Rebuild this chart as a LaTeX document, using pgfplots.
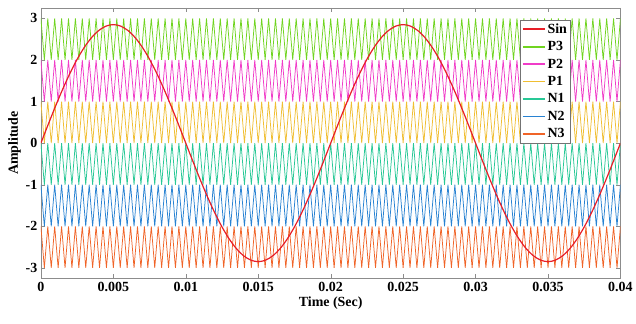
\documentclass[border=0pt]{standalone}
\usepackage{pgfplots}
\pgfplotsset{compat=1.18}
\usepackage{pgfplotstable}
\usepackage{fontspec}
\setmainfont{Liberation Serif}
\definecolor{sinred}{RGB}{232,30,40}
\definecolor{cp3}{RGB}{112,212,32}
\definecolor{cp2}{RGB}{240,60,200}
\definecolor{cp1}{RGB}{240,190,50}
\definecolor{cn1}{RGB}{40,200,150}
\definecolor{cn2}{RGB}{40,130,210}
\definecolor{cn3}{RGB}{240,100,40}
% carriers: x in units of 1/4200 s (0.005 s = 21 units)
\pgfplotstableread[row sep=\\]{
k P3 P2 P1 N1 N2 N3\\
0 3 2 1 0 -1 -2\\ 1 2 1 0 -1 -2 -3\\
2 3 2 1 0 -1 -2\\ 3 2 1 0 -1 -2 -3\\
4 3 2 1 0 -1 -2\\ 5 2 1 0 -1 -2 -3\\
6 3 2 1 0 -1 -2\\ 7 2 1 0 -1 -2 -3\\
8 3 2 1 0 -1 -2\\ 9 2 1 0 -1 -2 -3\\
10 3 2 1 0 -1 -2\\ 11 2 1 0 -1 -2 -3\\
12 3 2 1 0 -1 -2\\ 13 2 1 0 -1 -2 -3\\
14 3 2 1 0 -1 -2\\ 15 2 1 0 -1 -2 -3\\
16 3 2 1 0 -1 -2\\ 17 2 1 0 -1 -2 -3\\
18 3 2 1 0 -1 -2\\ 19 2 1 0 -1 -2 -3\\
20 3 2 1 0 -1 -2\\ 21 2 1 0 -1 -2 -3\\
22 3 2 1 0 -1 -2\\ 23 2 1 0 -1 -2 -3\\
24 3 2 1 0 -1 -2\\ 25 2 1 0 -1 -2 -3\\
26 3 2 1 0 -1 -2\\ 27 2 1 0 -1 -2 -3\\
28 3 2 1 0 -1 -2\\ 29 2 1 0 -1 -2 -3\\
30 3 2 1 0 -1 -2\\ 31 2 1 0 -1 -2 -3\\
32 3 2 1 0 -1 -2\\ 33 2 1 0 -1 -2 -3\\
34 3 2 1 0 -1 -2\\ 35 2 1 0 -1 -2 -3\\
36 3 2 1 0 -1 -2\\ 37 2 1 0 -1 -2 -3\\
38 3 2 1 0 -1 -2\\ 39 2 1 0 -1 -2 -3\\
40 3 2 1 0 -1 -2\\ 41 2 1 0 -1 -2 -3\\
42 3 2 1 0 -1 -2\\ 43 2 1 0 -1 -2 -3\\
44 3 2 1 0 -1 -2\\ 45 2 1 0 -1 -2 -3\\
46 3 2 1 0 -1 -2\\ 47 2 1 0 -1 -2 -3\\
48 3 2 1 0 -1 -2\\ 49 2 1 0 -1 -2 -3\\
50 3 2 1 0 -1 -2\\ 51 2 1 0 -1 -2 -3\\
52 3 2 1 0 -1 -2\\ 53 2 1 0 -1 -2 -3\\
54 3 2 1 0 -1 -2\\ 55 2 1 0 -1 -2 -3\\
56 3 2 1 0 -1 -2\\ 57 2 1 0 -1 -2 -3\\
58 3 2 1 0 -1 -2\\ 59 2 1 0 -1 -2 -3\\
60 3 2 1 0 -1 -2\\ 61 2 1 0 -1 -2 -3\\
62 3 2 1 0 -1 -2\\ 63 2 1 0 -1 -2 -3\\
64 3 2 1 0 -1 -2\\ 65 2 1 0 -1 -2 -3\\
66 3 2 1 0 -1 -2\\ 67 2 1 0 -1 -2 -3\\
68 3 2 1 0 -1 -2\\ 69 2 1 0 -1 -2 -3\\
70 3 2 1 0 -1 -2\\ 71 2 1 0 -1 -2 -3\\
72 3 2 1 0 -1 -2\\ 73 2 1 0 -1 -2 -3\\
74 3 2 1 0 -1 -2\\ 75 2 1 0 -1 -2 -3\\
76 3 2 1 0 -1 -2\\ 77 2 1 0 -1 -2 -3\\
78 3 2 1 0 -1 -2\\ 79 2 1 0 -1 -2 -3\\
80 3 2 1 0 -1 -2\\ 81 2 1 0 -1 -2 -3\\
82 3 2 1 0 -1 -2\\ 83 2 1 0 -1 -2 -3\\
84 3 2 1 0 -1 -2\\ 85 2 1 0 -1 -2 -3\\
86 3 2 1 0 -1 -2\\ 87 2 1 0 -1 -2 -3\\
88 3 2 1 0 -1 -2\\ 89 2 1 0 -1 -2 -3\\
90 3 2 1 0 -1 -2\\ 91 2 1 0 -1 -2 -3\\
92 3 2 1 0 -1 -2\\ 93 2 1 0 -1 -2 -3\\
94 3 2 1 0 -1 -2\\ 95 2 1 0 -1 -2 -3\\
96 3 2 1 0 -1 -2\\ 97 2 1 0 -1 -2 -3\\
98 3 2 1 0 -1 -2\\ 99 2 1 0 -1 -2 -3\\
100 3 2 1 0 -1 -2\\ 101 2 1 0 -1 -2 -3\\
102 3 2 1 0 -1 -2\\ 103 2 1 0 -1 -2 -3\\
104 3 2 1 0 -1 -2\\ 105 2 1 0 -1 -2 -3\\
106 3 2 1 0 -1 -2\\ 107 2 1 0 -1 -2 -3\\
108 3 2 1 0 -1 -2\\ 109 2 1 0 -1 -2 -3\\
110 3 2 1 0 -1 -2\\ 111 2 1 0 -1 -2 -3\\
112 3 2 1 0 -1 -2\\ 113 2 1 0 -1 -2 -3\\
114 3 2 1 0 -1 -2\\ 115 2 1 0 -1 -2 -3\\
116 3 2 1 0 -1 -2\\ 117 2 1 0 -1 -2 -3\\
118 3 2 1 0 -1 -2\\ 119 2 1 0 -1 -2 -3\\
120 3 2 1 0 -1 -2\\ 121 2 1 0 -1 -2 -3\\
122 3 2 1 0 -1 -2\\ 123 2 1 0 -1 -2 -3\\
124 3 2 1 0 -1 -2\\ 125 2 1 0 -1 -2 -3\\
126 3 2 1 0 -1 -2\\ 127 2 1 0 -1 -2 -3\\
128 3 2 1 0 -1 -2\\ 129 2 1 0 -1 -2 -3\\
130 3 2 1 0 -1 -2\\ 131 2 1 0 -1 -2 -3\\
132 3 2 1 0 -1 -2\\ 133 2 1 0 -1 -2 -3\\
134 3 2 1 0 -1 -2\\ 135 2 1 0 -1 -2 -3\\
136 3 2 1 0 -1 -2\\ 137 2 1 0 -1 -2 -3\\
138 3 2 1 0 -1 -2\\ 139 2 1 0 -1 -2 -3\\
140 3 2 1 0 -1 -2\\ 141 2 1 0 -1 -2 -3\\
142 3 2 1 0 -1 -2\\ 143 2 1 0 -1 -2 -3\\
144 3 2 1 0 -1 -2\\ 145 2 1 0 -1 -2 -3\\
146 3 2 1 0 -1 -2\\ 147 2 1 0 -1 -2 -3\\
148 3 2 1 0 -1 -2\\ 149 2 1 0 -1 -2 -3\\
150 3 2 1 0 -1 -2\\ 151 2 1 0 -1 -2 -3\\
152 3 2 1 0 -1 -2\\ 153 2 1 0 -1 -2 -3\\
154 3 2 1 0 -1 -2\\ 155 2 1 0 -1 -2 -3\\
156 3 2 1 0 -1 -2\\ 157 2 1 0 -1 -2 -3\\
158 3 2 1 0 -1 -2\\ 159 2 1 0 -1 -2 -3\\
160 3 2 1 0 -1 -2\\ 161 2 1 0 -1 -2 -3\\
162 3 2 1 0 -1 -2\\ 163 2 1 0 -1 -2 -3\\
164 3 2 1 0 -1 -2\\ 165 2 1 0 -1 -2 -3\\
166 3 2 1 0 -1 -2\\ 167 2 1 0 -1 -2 -3\\
168 3 2 1 0 -1 -2\\
}\carriers
% sine reference, same x units
\pgfplotstableread[row sep=\\]{
x y\\
0 0\\ 2.1 0.4458\\ 4.2 0.8807\\ 6.3 1.2939\\ 8.4 1.6752\\ 10.5 2.0153\\ 12.6 2.3057\\ 14.7 2.5394\\ 16.8 2.7105\\ 18.9 2.8149\\
21 2.85\\ 23.1 2.8149\\ 25.2 2.7105\\ 27.3 2.5394\\ 29.4 2.3057\\ 31.5 2.0153\\ 33.6 1.6752\\ 35.7 1.2939\\ 37.8 0.8807\\ 39.9 0.4458\\
42 0\\ 44.1 -0.4458\\ 46.2 -0.8807\\ 48.3 -1.2939\\ 50.4 -1.6752\\ 52.5 -2.0153\\ 54.6 -2.3057\\ 56.7 -2.5394\\ 58.8 -2.7105\\ 60.9 -2.8149\\
63 -2.85\\ 65.1 -2.8149\\ 67.2 -2.7105\\ 69.3 -2.5394\\ 71.4 -2.3057\\ 73.5 -2.0153\\ 75.6 -1.6752\\ 77.7 -1.2939\\ 79.8 -0.8807\\ 81.9 -0.4458\\
84 0\\ 86.1 0.4458\\ 88.2 0.8807\\ 90.3 1.2939\\ 92.4 1.6752\\ 94.5 2.0153\\ 96.6 2.3057\\ 98.7 2.5394\\ 100.8 2.7105\\ 102.9 2.8149\\
105 2.85\\ 107.1 2.8149\\ 109.2 2.7105\\ 111.3 2.5394\\ 113.4 2.3057\\ 115.5 2.0153\\ 117.6 1.6752\\ 119.7 1.2939\\ 121.8 0.8807\\ 123.9 0.4458\\
126 0\\ 128.1 -0.4458\\ 130.2 -0.8807\\ 132.3 -1.2939\\ 134.4 -1.6752\\ 136.5 -2.0153\\ 138.6 -2.3057\\ 140.7 -2.5394\\ 142.8 -2.7105\\ 144.9 -2.8149\\
147 -2.85\\ 149.1 -2.8149\\ 151.2 -2.7105\\ 153.3 -2.5394\\ 155.4 -2.3057\\ 157.5 -2.0153\\ 159.6 -1.6752\\ 161.7 -1.2939\\ 163.8 -0.8807\\ 165.9 -0.4458\\
168 0\\
}\sinedata
\begin{document}
\begin{tikzpicture}
\begin{axis}[
  scale only axis,
  width=581pt, height=271pt,
  xmin=0, xmax=168,
  ymin=-3.25, ymax=3.25,
  xtick={0,21,42,63,84,105,126,147,168},
  xticklabels={0,0.005,0.01,0.015,0.02,0.025,0.03,0.035,0.04},
  ytick={-3,-2,-1,0,1,2,3},
  /pgf/number format/assume math mode=true,
  tick label style={font=\bfseries\fontsize{14}{16}\selectfont},
  label style={font=\bfseries\fontsize{14}{16}\selectfont},
  xlabel={Time (Sec)},
  ylabel={Amplitude},
  xlabel style={yshift=1pt},
  ylabel style={yshift=-2pt},
  tick align=inside,
  major tick length=4pt,
  axis line style={draw=black!45},
  tick style={draw=black!45},
  legend style={at={(0.914,0.956)}, anchor=north east,
    font=\bfseries\fontsize{14}{16}\selectfont,
    draw=black!55, fill=white, inner sep=1.5pt, row sep=2.7pt},
  legend cell align=left,
  legend image code/.code={\draw[mark repeat=2,mark phase=2,#1] plot coordinates {(0pt,0pt) (11pt,0pt) (22pt,0pt)};},
  legend image post style={line width=1.6pt},
  every axis plot/.append style={line width=0.75pt},
]
\addlegendimage{color=sinred}
\addlegendentry{Sin}
\addplot[color=cp3] table[x=k, y=P3] {\carriers}; \addlegendentry{P3}
\addplot[color=cp2] table[x=k, y=P2] {\carriers}; \addlegendentry{P2}
\addplot[color=cp1] table[x=k, y=P1] {\carriers}; \addlegendentry{P1}
\addplot[color=cn1] table[x=k, y=N1] {\carriers}; \addlegendentry{N1}
\addplot[color=cn2] table[x=k, y=N2] {\carriers}; \addlegendentry{N2}
\addplot[color=cn3] table[x=k, y=N3] {\carriers}; \addlegendentry{N3}
\addplot[color=sinred, line width=1.2pt, smooth, forget plot] table[x=x, y=y] {\sinedata};
\end{axis}
\path ([xshift=-41pt,yshift=-45pt]current axis.south west) rectangle ([xshift=14pt,yshift=8pt]current axis.north east);
\end{tikzpicture}
\end{document}
